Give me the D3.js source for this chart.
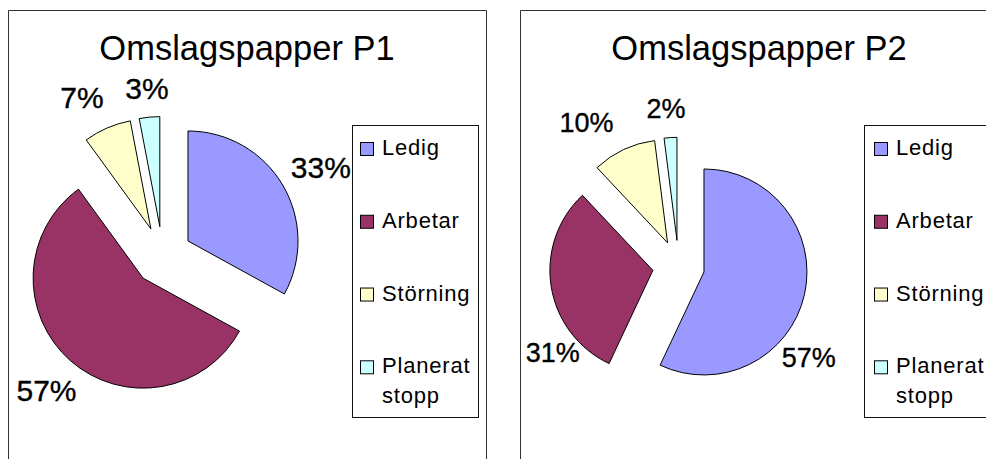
<!DOCTYPE html>
<html>
<head>
<meta charset="utf-8">
<script src="https://cdn.jsdelivr.net/npm/d3@7"></script>
<style>
  html, body { margin: 0; padding: 0; background: #fff; }
  svg { display: block; }
  text { font-family: "Liberation Sans", Arial, sans-serif; fill: #000; }
</style>
</head>
<body>
<svg id="chart" width="986" height="459"></svg>
<script>
// ---- data ----
const categories = ["Ledig", "Arbetar", "Störning", "Planerat stopp"];
const titles = ["Omslagspapper P1", "Omslagspapper P2"];
const valuesP1 = [33, 57, 7, 3];
const valuesP2 = [57, 31, 10, 2];
const colors = ["#9999FF", "#993366", "#FFFFCC", "#CCFFFF"];

// ---- layout (styling, not data) ----
// label nudges: [angle shift in degrees, radial shift in px]
const layouts = [
  { x: 8, cx: 154.6, cy: 256, r: 110, explode: 29.5, labelFont: 30,
    nudge: [[-1.5, -0.7], [-3.5, 1.5], [-2.2, 7.5], [0.4, 0]], swatchDx: 8, textDx: 30 },
  { x: 520, cx: 158.6, cy: 266.3, r: 103, explode: 26, labelFont: 27,
    nudge: [[25.5, -8.5], [-28.6, -15.3], [-4.8, 10], [-0.7, 2]], swatchDx: 10, textDx: 32 }
];
const frameW = 478, frameTop = 10;
const labelPad = 18;
const series = [valuesP1, valuesP2];

const svg = d3.select("#chart");
const color = d3.scaleOrdinal().domain(categories).range(colors);
const pct = d3.format(".0%");
const rowY = d3.scaleLinear().domain([0, 3]).range([155, 373.3]);

series.forEach((vals, ci) => {
  const L = layouts[ci];
  const capH = 0.716 * L.labelFont;
  const g = svg.append("g").attr("transform", `translate(${L.x},0)`);

  // frame (bottom edge runs off the picture)
  g.append("path")
    .attr("d", `M0.5,470 V${frameTop + 0.5} H${frameW + 0.5} V470`)
    .attr("fill", "none").attr("stroke", "#333").attr("stroke-width", 1);

  // title
  g.append("text")
    .attr("x", frameW / 2).attr("y", 60)
    .attr("text-anchor", "middle")
    .style("font-size", "34.5px")
    .text(titles[ci]);

  const total = d3.sum(vals);
  const pie = d3.pie().sort(null).value(d => d.value)
    .startAngle(0).endAngle(2 * Math.PI);
  const arcs = pie(vals.map((v, i) => ({ cat: categories[i], value: v })));
  const arc = d3.arc().innerRadius(0).outerRadius(L.r);

  const pg = g.append("g").attr("transform", `translate(${L.cx},${L.cy})`);
  pg.selectAll("path.slice").data(arcs).join("path")
    .attr("class", "slice")
    .attr("transform", d => {
      const m = (d.startAngle + d.endAngle) / 2;
      return `translate(${Math.sin(m) * L.explode},${-Math.cos(m) * L.explode})`;
    })
    .attr("d", arc)
    .attr("fill", d => color(d.data.cat))
    .attr("stroke", "#000").attr("stroke-width", 1)
    .attr("stroke-linejoin", "round");

  // data labels: placed just outside the exploded slice edge
  pg.selectAll("text.lbl").data(arcs).join("text")
    .attr("class", "lbl")
    .attr("text-anchor", "middle")
    .style("font-size", L.labelFont + "px")
    .attr("stroke", "#000").attr("stroke-width", 0.35)
    .text(d => pct(d.data.value / total))
    .each(function (d, i) {
      const w = this.getComputedTextLength();
      const m = (d.startAngle + d.endAngle) / 2 + L.nudge[i][0] * Math.PI / 180;
      const dx = Math.sin(m), dy = -Math.cos(m);
      const base = L.r + L.explode + labelPad + L.nudge[i][1];
      const cx = dx * base + dx * w / 2;
      const cy = dy * base + dy * capH / 2;
      d3.select(this).attr("x", cx).attr("y", cy + capH / 2);
    });

  // legend
  const lg = g.append("g").attr("transform", "translate(344,0)");
  lg.append("rect")
    .attr("x", 0.5).attr("y", 125.5).attr("width", 126).attr("height", 292)
    .attr("fill", "#fff").attr("stroke", "#111").attr("stroke-width", 1);
  const items = lg.selectAll("g.item").data(categories).join("g").attr("class", "item");
  items.append("rect")
    .attr("x", L.swatchDx + 0.5).attr("y", (d, i) => rowY(i) - 12.5)
    .attr("width", 13).attr("height", 13)
    .attr("fill", d => color(d)).attr("stroke", "#000").attr("stroke-width", 1);
  items.append("text")
    .attr("x", L.textDx).attr("y", (d, i) => rowY(i))
    .style("font-size", "22px")
    .style("letter-spacing", "0.8px")
    .selectAll("tspan").data(d => d.split(" ")).join("tspan")
    .attr("x", L.textDx)
    .attr("dy", (d, j) => j === 0 ? 0 : 30)
    .text(d => d);
});
</script>
</body>
</html>
